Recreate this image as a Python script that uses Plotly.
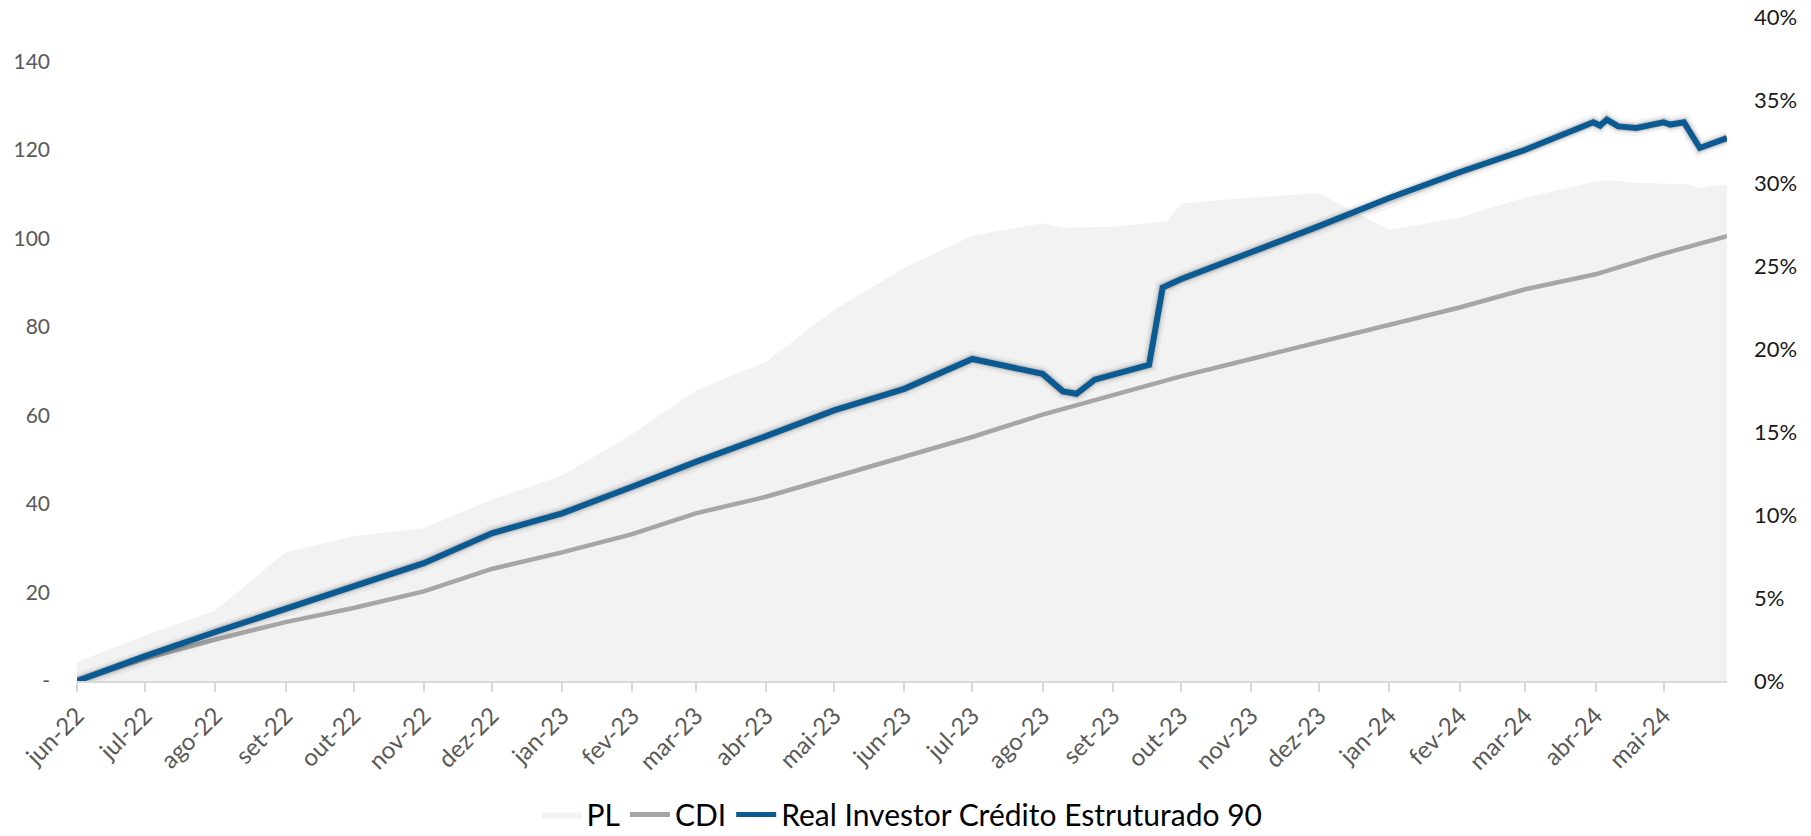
import plotly.graph_objects as go

# ---------------- data ----------------
month_ticks = ["2022-06-01", "2022-07-01", "2022-08-01", "2022-09-01", "2022-10-01", "2022-11-01",
               "2022-12-01", "2023-01-01", "2023-02-01", "2023-03-01", "2023-04-01", "2023-05-01",
               "2023-06-01", "2023-07-01", "2023-08-01", "2023-09-01", "2023-10-01", "2023-11-01",
               "2023-12-01", "2024-01-01", "2024-02-01", "2024-03-01", "2024-04-01", "2024-05-01"]
month_labels = ["jun-22", "jul-22", "ago-22", "set-22", "out-22", "nov-22", "dez-22", "jan-23",
                "fev-23", "mar-23", "abr-23", "mai-23", "jun-23", "jul-23", "ago-23", "set-23",
                "out-23", "nov-23", "dez-23", "jan-24", "fev-24", "mar-24", "abr-24", "mai-24"]

pl_dates = ["2022-06-01", "2022-07-01", "2022-08-01", "2022-09-01", "2022-10-01", "2022-11-01",
            "2022-12-01", "2023-01-01", "2023-02-01", "2023-03-01", "2023-04-01", "2023-05-01",
            "2023-06-01", "2023-07-01", "2023-08-01", "2023-08-10", "2023-09-01", "2023-09-25",
            "2023-10-01", "2023-11-01", "2023-12-01", "2024-01-01", "2024-02-01", "2024-03-01",
            "2024-04-01", "2024-04-06", "2024-04-20", "2024-05-01", "2024-05-12", "2024-05-17",
            "2024-05-22", "2024-05-29"]
pl_values = [4.3, 10.3, 15.9, 29.1, 32.7, 34.5, 41.0, 46.4, 55.8, 65.6, 72.1, 83.8,
             93.3, 100.6, 103.4, 102.4, 102.6, 103.8, 107.8, 109.2, 110.2, 101.9, 104.7, 109.2,
             112.8, 113.2, 112.5, 112.3, 112.2, 111.3, 111.9, 112.0]

cdi_dates = ["2022-06-01", "2022-07-01", "2022-08-01", "2022-09-01", "2022-10-01", "2022-11-01",
             "2022-12-01", "2023-01-01", "2023-02-01", "2023-03-01", "2023-04-01", "2023-05-01",
             "2023-06-01", "2023-07-01", "2023-08-01", "2023-09-01", "2023-10-01", "2023-11-01",
             "2023-12-01", "2024-01-01", "2024-02-01", "2024-03-01", "2024-04-01", "2024-05-01",
             "2024-05-29"]
cdi_values = [0.0, 1.35, 2.5, 3.55, 4.4, 5.4, 6.75, 7.75, 8.85, 10.1, 11.1, 12.3,
              13.5, 14.7, 16.05, 17.25, 18.35, 19.4, 20.4, 21.45, 22.5, 23.6, 24.5, 25.75,
              26.8]

fund_dates = ["2022-06-01", "2022-07-01", "2022-08-01", "2022-09-01", "2022-10-01", "2022-11-01",
              "2022-12-01", "2023-01-01", "2023-02-01", "2023-03-01", "2023-04-01", "2023-05-01",
              "2023-06-01", "2023-07-01", "2023-08-01", "2023-08-10", "2023-08-16", "2023-08-24",
              "2023-09-17", "2023-09-23", "2023-10-01", "2023-11-01", "2023-12-01", "2024-01-01",
              "2024-02-01", "2024-03-01", "2024-03-31", "2024-04-03", "2024-04-06", "2024-04-11",
              "2024-04-19", "2024-05-01", "2024-05-04", "2024-05-10", "2024-05-17", "2024-05-29"]
fund_values = [0.0, 1.5, 2.95, 4.35, 5.65, 7.1, 8.9, 10.1, 11.7, 13.2, 14.75, 16.3,
               17.6, 19.4, 18.5, 17.45, 17.3, 18.15, 19.05, 23.7, 24.2, 25.8, 27.4, 29.1,
               30.65, 32.0, 33.66, 33.46, 33.82, 33.41, 33.32, 33.66, 33.52, 33.66, 32.11, 32.7]

left_ticks = [0, 20, 40, 60, 80, 100, 120, 140]
left_labels = ["-", "20", "40", "60", "80", "100", "120", "140"]
right_ticks = [0, 5, 10, 15, 20, 25, 30, 35, 40]
right_labels = ["0%", "5%", "10%", "15%", "20%", "25%", "30%", "35%", "40%"]

# ---------------- figure ----------------
FONT = "Lato, Poppins, sans-serif"
BLUE = "#0c5a92"
GREY = "#a6a6a6"

fig = go.Figure()

fig.add_trace(go.Scatter(
    x=pl_dates, y=pl_values, name="PL", mode="lines", yaxis="y",
    fill="tozeroy", fillcolor="#f2f2f2", line=dict(width=0, color="#f2f2f2"),
    hoverinfo="skip"))

fig.add_trace(go.Scatter(
    x=cdi_dates, y=cdi_values, name="CDI", mode="lines", yaxis="y2",
    line=dict(color=GREY, width=4.5)))

# soft glow under the fund line
for w, a in [(16, 0.04), (11, 0.07), (8, 0.10)]:
    fig.add_trace(go.Scatter(
        x=fund_dates, y=fund_values, mode="lines", yaxis="y2", showlegend=False,
        hoverinfo="skip", line=dict(color=f"rgba(0,0,0,{a})", width=w)))

fig.add_trace(go.Scatter(
    x=fund_dates, y=fund_values, name="Real Investor Crédito Estruturado 90", mode="lines",
    yaxis="y2", line=dict(color=BLUE, width=6)))

fig.update_layout(
    width=1811, height=836,
    margin=dict(l=77, r=84, t=17, b=155, autoexpand=False),
    paper_bgcolor="white", plot_bgcolor="white",
    font=dict(family=FONT, size=21, color="#595959"),
    showlegend=True,
    legend=dict(orientation="h", x=0.5, xanchor="center", y=-0.201, yanchor="middle",
                font=dict(size=30, color="#000000", family=FONT),
                traceorder="normal", itemsizing="constant", itemwidth=40,
                borderwidth=0),
    xaxis=dict(
        type="date", range=["2022-06-01", "2024-05-29"], automargin=False,
        tickvals=month_ticks, ticktext=month_labels, tickangle=-45,
        ticks="outside", ticklen=9, tickwidth=1.5, tickcolor="#d9d9d9",
        showline=True, linecolor="#d9d9d9", linewidth=2,
        showgrid=False, zeroline=False,
        tickfont=dict(size=24, color="#595959", family=FONT)),
    yaxis=dict(
        range=[0, 150], tickvals=left_ticks, ticktext=left_labels, automargin=False,
        showgrid=False, zeroline=False, showline=False, ticks="",
        ticklabelstandoff=26,
        tickfont=dict(size=21, color="#595959", family=FONT)),
    yaxis2=dict(
        overlaying="y", side="right", range=[0, 40], tickvals=right_ticks,
        ticktext=right_labels, automargin=False,
        showgrid=False, zeroline=False, showline=False, ticks="",
        ticklabelstandoff=26,
        tickfont=dict(size=22, color="#1a1a1a", family=FONT)),
)

fig.write_html("out.html",
               config={"displayModeBar": False},
               post_script="document.body.style.margin='0';document.body.style.overflow='hidden';")
